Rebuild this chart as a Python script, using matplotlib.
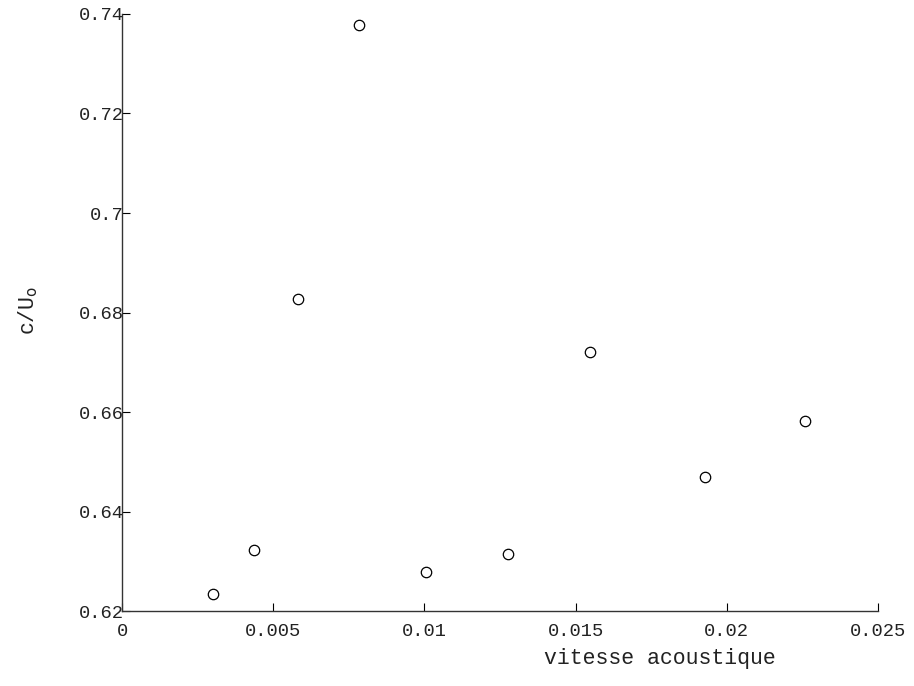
import matplotlib
matplotlib.use("Agg")
import matplotlib.pyplot as plt

# values
vitesse = [0.00301, 0.00437, 0.00582, 0.00784, 0.01005, 0.01276, 0.01548, 0.01928, 0.02259]
c_u0 = [0.6234, 0.6322, 0.6827, 0.7377, 0.6278, 0.6314, 0.6720, 0.6469, 0.6581]

xticks = [0, 0.005, 0.01, 0.015, 0.02, 0.025]
xtick_labels = ['0', '0.005', '0.01', '0.015', '0.02', '0.025']
yticks = [0.62, 0.64, 0.66, 0.68, 0.70, 0.72, 0.74]
ytick_labels = ['0.62', '0.64', '0.66', '0.68', '0.7', '0.72', '0.74']

plt.rcParams['font.family'] = ['Liberation Mono', 'DejaVu Sans Mono']

fig = plt.figure(figsize=(9.14, 6.86), dpi=100)
ax = fig.add_axes([0.1335, 0.1093, 0.8271, 0.8703])

ax.plot(vitesse, c_u0, 'o', markersize=7.5, markerfacecolor='none',
        markeredgecolor='k', markeredgewidth=0.9)

ax.set_xlim(0, 0.025)
ax.set_ylim(0.62, 0.74)
ax.set_xticks(xticks)
ax.set_xticklabels(xtick_labels)
ax.set_yticks(yticks)
ax.set_yticklabels(ytick_labels)

for s in ['top', 'right']:
    ax.spines[s].set_visible(False)
for s in ['left', 'bottom']:
    ax.spines[s].set_linewidth(1.0)
    ax.spines[s].set_color('#333333')

ax.tick_params(axis='x', direction='in', length=6, width=0.8, pad=8.5,
               labelsize=13.5, labelcolor='#222222')
ax.tick_params(axis='y', direction='in', length=6, width=0.8, pad=-1,
               labelsize=13.5, labelcolor='#222222')

ax.set_xlabel('vitesse acoustique', fontsize=15.5, color='#222222')
ax.set_ylabel('c/U$_\\mathrm{o}$', fontsize=15.5, color='#222222')
ax.xaxis.set_label_coords(0.712, -0.062)
ax.yaxis.set_label_coords(-0.108, 0.504)

fig.savefig('out.png', dpi=100)
plt.close(fig)
